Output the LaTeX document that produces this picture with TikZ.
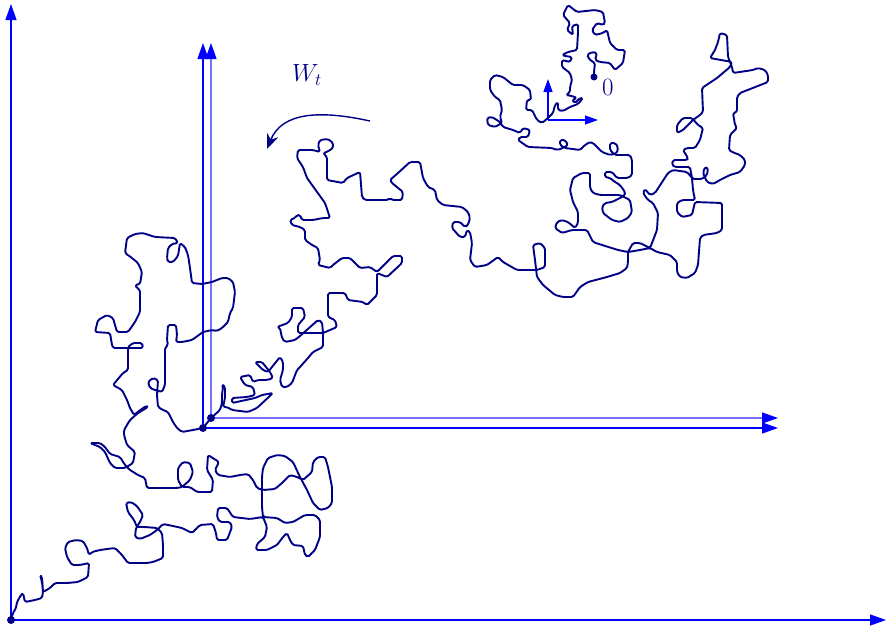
\documentclass[tikz,border=0pt]{standalone}
\usetikzlibrary{arrows.meta}
\definecolor{walkcol}{RGB}{0,0,135}
\begin{document}
\begin{tikzpicture}[x=1pt,y=-1pt,
  axis/.style={draw=blue, line width=1.2pt, -{Triangle[length=16pt,width=11pt,color=blue]}},
  axislight/.style={draw=blue!55, line width=1.2pt, -{Triangle[length=16pt,width=11pt,color=blue]}},
  smallaxis/.style={draw=blue, line width=1.3pt, -{Triangle[length=13pt,width=9pt,color=blue]}},
  walk/.style={draw=walkcol, line width=1.9pt, rounded corners=1.6pt, line join=round, line cap=round},
  dotnode/.style={circle, fill=walkcol, inner sep=0pt, minimum size=8pt},
  wlabel/.style={text=walkcol, inner sep=0pt}]
\useasboundingbox (0,0) rectangle (886,632);
% anchor coordinates
\coordinate (o) at (11,620);
\coordinate (a) at (203,428);
\coordinate (b) at (211,418);
\coordinate (z) at (594,77);
\coordinate (s) at (548,120);
\coordinate (oy) at (11,4);
\coordinate (ox) at (886,620);
\coordinate (ay) at (203,43);
\coordinate (ax) at (778,428);
\coordinate (by) at (211,43);
\coordinate (bx) at (778,418);
\coordinate (sy) at (548,79);
\coordinate (sx) at (598,120);
\coordinate (warrS) at (370,121);
\coordinate (warrE) at (267,149);
% axes
\draw[axis] (o) -- (oy);
\draw[axis] (o) -- (ox);
\draw[axis] (a) -- (ay);
\draw[axis] (a) -- (ax);
\draw[axislight] (b) -- (by);
\draw[axislight] (b) -- (bx);
\draw[smallaxis] (s) -- (sy);
\draw[smallaxis] (s) -- (sx);
% walk, first part
\draw[walk] (o) -- (13,613) -- (16,608) -- (17,602) -- (21,595) -- (23,593) -- (25,602) -- (30,601) -- (35,600) -- (42,598) -- (43,592) -- (42,577) -- (40,575) -- (42,582) -- (43,592) -- (50,588) -- (55,583) -- (67,583) -- (78,582) -- (88,577) -- (89,563) -- (80,565) -- (72,565) -- (67,557) -- (65,548) -- (68,542) -- (76,540) -- (83,541) -- (87,548) -- (89,555) -- (92,552) -- (100,550) -- (107,549) -- (115,548) -- (122,555) -- (128,563) -- (147,563) -- (153,562) -- (163,558) -- (163,545) -- (162,533) -- (157,528) -- (145,527) -- (137,527) -- (134,520) -- (128,512) -- (126,503) -- (131,502) -- (137,506) -- (143,515) -- (140,522) -- (136,528) -- (135,537) -- (140,539) -- (150,535) -- (157,530) -- (163,524) -- (173,526) -- (182,528) -- (192,533) -- (195,530) -- (200,525) -- (213,524) -- (216,533) -- (217,540) -- (227,540) -- (232,527) -- (230,522) -- (220,522) -- (217,517) -- (218,508) -- (227,508) -- (233,517) -- (250,519) -- (263,517) -- (267,527) -- (265,537) -- (257,544) -- (256,550) -- (267,550) -- (277,545) -- (283,537) -- (287,533) -- (290,540) -- (293,545) -- (303,546) -- (305,555) -- (308,557) -- (315,550) -- (320,537) -- (320,520) -- (315,515) -- (305,515) -- (293,522) -- (285,523) -- (277,518) -- (263,517) -- (262,507) -- (262,490) -- (262,477) -- (263,468) -- (268,458) -- (277,455) -- (285,456) -- (293,462) -- (300,477) -- (307,490) -- (313,503) -- (320,510) -- (328,508) -- (332,503) -- (332,487) -- (328,467) -- (325,457) -- (318,457) -- (313,462) -- (312,472) -- (303,480) -- (297,477) -- (290,475) -- (282,483) -- (275,489) -- (263,490) -- (257,488) -- (253,480) -- (248,474) -- (240,475) -- (230,477) -- (218,475) -- (215,470) -- (219,462) -- (208,455) -- (207,470) -- (213,480) -- (212,492) -- (197,492) -- (190,487) -- (182,487) -- (178,480) -- (178,468) -- (183,462) -- (190,463) -- (193,472) -- (190,480) -- (182,487) -- (177,488) -- (147,488) -- (145,478) -- (138,475) -- (130,470) -- (125,465) -- (120,457) -- (110,454) -- (105,447) -- (100,443) -- (90,443) -- (100,447) -- (105,452) -- (110,463) -- (115,468) -- (125,468) -- (133,463) -- (135,452) -- (127,445) -- (124,435) -- (124,430) -- (130,420) -- (138,413) -- (148,407) -- (146,406) -- (139,411) -- (134,415) -- (130,408) -- (127,400) -- (122,390) -- (113,385) -- (123,373) -- (128,370) -- (128,347) -- (133,343) -- (142,343) -- (143,348) -- (113,348) -- (112,345) -- (110,333) -- (95,332) -- (98,320) -- (107,315) -- (113,318) -- (117,332) -- (128,332) -- (135,322) -- (140,312) -- (140,290) -- (137,288) -- (135,285) -- (140,284) -- (142,272) -- (138,263) -- (132,258) -- (125,253) -- (127,238) -- (135,234) -- (143,233) -- (155,237) -- (175,238) -- (178,243) -- (172,244) -- (168,248) -- (167,258) -- (168,262) -- (173,262) -- (178,256) -- (180,243) -- (185,247) -- (188,255) -- (190,268) -- (192,283) -- (202,284) -- (212,282) -- (222,278) -- (228,278) -- (233,282) -- (235,292) -- (233,308) -- (230,313) -- (228,322) -- (222,328) -- (217,331) -- (212,330) -- (203,332) -- (192,340) -- (182,342) -- (176,342) -- (177,335) -- (176,325) -- (168,325) -- (167,340) -- (168,345) -- (165,348) -- (165,385) -- (162,392) -- (155,390) -- (150,388) -- (148,382) -- (153,378) -- (158,380) -- (157,395) -- (158,407) -- (163,410) -- (168,412) -- (173,422) -- (177,428) -- (182,432) -- (193,430) -- (a);
% walk, second part
\draw[walk] (a) -- (b) -- (220,410) -- (222,403) -- (222,395) -- (223,387) -- (222,384) -- (225,387) -- (225,398) -- (223,407) -- (227,407) -- (232,410) -- (248,412) -- (257,408) -- (273,393) -- (262,395) -- (255,398) -- (232,403) -- (232,398) -- (247,397) -- (255,395) -- (253,387) -- (245,385) -- (240,377) -- (250,375) -- (253,382) -- (258,380) -- (267,380) -- (273,378) -- (270,372) -- (262,362) -- (255,362) -- (263,370) -- (268,372) -- (280,357) -- (283,362) -- (283,370) -- (280,380) -- (282,387) -- (287,387) -- (292,383) -- (297,370) -- (300,367) -- (308,358) -- (313,352) -- (323,347) -- (323,333) -- (322,322) -- (318,320) -- (300,336) -- (295,340) -- (285,342) -- (282,338) -- (280,328) -- (277,327) -- (288,323) -- (292,317) -- (292,308) -- (303,308) -- (305,317) -- (298,325) -- (298,333) -- (323,333) -- (330,330) -- (337,327) -- (335,320) -- (328,317) -- (328,293) -- (345,293) -- (348,300) -- (363,302) -- (367,305) -- (377,295) -- (377,280) -- (377,273) -- (387,277) -- (402,263) -- (402,256) -- (393,256) -- (377,272) -- (370,267) -- (360,268) -- (350,258) -- (342,258) -- (333,265) -- (330,268) -- (318,265) -- (320,260) -- (318,248) -- (312,245) -- (305,240) -- (305,230) -- (300,227) -- (292,225) -- (290,220) -- (295,218) -- (297,215) -- (300,215) -- (302,220) -- (313,220) -- (323,218) -- (330,218) -- (325,203) -- (307,178) -- (303,167) -- (297,158) -- (298,150) -- (313,150) -- (320,152) -- (318,145) -- (320,140) -- (328,139) -- (333,143) -- (333,148) -- (327,152) -- (323,153) -- (327,157) -- (327,180) -- (343,183) -- (347,178) -- (360,172) -- (362,197) -- (365,200) -- (388,200) -- (390,198) -- (392,200) -- (402,200) -- (403,192) -- (392,183) -- (390,180) -- (398,173) -- (410,162) -- (420,162) -- (423,178) -- (428,187) -- (435,190) -- (437,200) -- (443,205) -- (462,207) -- (468,212) -- (470,218) -- (468,225) -- (465,227) -- (460,222) -- (453,222) -- (452,228) -- (460,237) -- (465,237) -- (467,230) -- (470,232) -- (472,243) -- (470,260) -- (475,267) -- (487,265) -- (498,257) -- (503,262) -- (517,270) -- (537,270) -- (545,267) -- (545,248) -- (540,243) -- (533,245) -- (535,260) -- (537,277) -- (543,285) -- (555,295) -- (563,297) -- (573,297) -- (580,287) -- (588,282) -- (607,277) -- (620,273) -- (627,268) -- (628,262) -- (628,252) -- (633,243) -- (640,243) -- (650,248) -- (657,230) -- (658,213) -- (653,203) -- (648,200) -- (643,193) -- (645,189) -- (650,195) -- (655,193) -- (668,173) -- (673,170) -- (687,172) -- (693,179) -- (702,179) -- (707,175) -- (708,168) -- (705,167) -- (703,173) -- (707,182) -- (713,184) -- (720,180) -- (730,175) -- (740,172) -- (745,165) -- (745,160) -- (740,155) -- (732,152) -- (729,150) -- (730,135) -- (737,128) -- (735,125) -- (733,113) -- (737,112) -- (737,97) -- (740,93) -- (768,82) -- (768,75) -- (765,70) -- (758,68) -- (753,70) -- (733,73) -- (732,67) -- (728,57) -- (727,35) -- (720,33) -- (718,42) -- (715,50) -- (710,58) -- (732,62) -- (730,67) -- (717,78) -- (702,88) -- (703,112) -- (700,115) -- (693,120) -- (683,130) -- (677,133) -- (677,125) -- (683,118) -- (692,118) -- (698,125) -- (703,128) -- (700,140) -- (695,148) -- (687,148) -- (683,150) -- (688,158) -- (687,160) -- (673,160) -- (672,165) -- (675,167) -- (690,167) -- (692,178) -- (693,190) -- (695,200) -- (682,200) -- (677,203) -- (677,212) -- (682,217) -- (692,215) -- (695,202) -- (722,203) -- (722,230) -- (717,233) -- (703,235) -- (700,238) -- (698,265) -- (695,273) -- (687,278) -- (680,277) -- (677,272) -- (677,262) -- (670,255) -- (657,252) -- (650,248) -- (640,250) -- (628,252) -- (618,250) -- (602,245) -- (593,242) -- (587,230) -- (572,230) -- (562,233) -- (555,228) -- (557,222) -- (562,220) -- (568,222) -- (575,228) -- (578,223) -- (578,212) -- (573,202) -- (570,190) -- (573,178) -- (582,173) -- (590,173) -- (590,188) -- (593,193) -- (600,195) -- (620,195) -- (630,200) -- (632,212) -- (628,218) -- (620,222) -- (612,220) -- (603,213) -- (602,207) -- (605,203) -- (612,202) -- (622,197) -- (625,195) -- (625,192) -- (620,185) -- (615,182) -- (610,178) -- (605,177) -- (605,172) -- (612,172) -- (617,178) -- (628,178) -- (632,175) -- (632,160) -- (630,155) -- (615,155) -- (610,150) -- (610,143) -- (615,143) -- (618,147) -- (617,153) -- (610,155) -- (602,152) -- (593,143) -- (590,142) -- (585,145) -- (580,150) -- (565,148) -- (560,145) -- (560,140) -- (565,140) -- (568,145) -- (563,148) -- (557,150) -- (552,148) -- (528,147) -- (518,140) -- (520,137) -- (528,137) -- (530,130) -- (523,128) -- (520,133) -- (513,130) -- (503,127) -- (500,122) -- (492,117) -- (487,118) -- (488,125) -- (495,127) -- (502,123) -- (500,117) -- (502,110) -- (500,100) -- (495,97) -- (490,90) -- (490,80) -- (495,75) -- (503,77) -- (513,85) -- (523,85) -- (530,90) -- (531,100) -- (527,100) -- (526,110) -- (532,110) -- (537,120) -- (542,123) -- (548,118) -- (553,113) -- (555,105) -- (558,102) -- (558,110) -- (563,111) -- (570,107) -- (578,104) -- (583,98) -- (580,98) -- (575,103) -- (572,100) -- (577,98) -- (572,96) -- (566,95) -- (570,92) -- (570,87) -- (572,80) -- (570,73) -- (562,67) -- (562,60) -- (570,62) -- (572,57) -- (565,56) -- (562,55) -- (568,52) -- (577,50) -- (578,33) -- (578,24) -- (572,26) -- (573,35) -- (567,30) -- (570,23) -- (563,15) -- (568,5) -- (577,12) -- (595,10) -- (603,12) -- (605,23) -- (603,25) -- (597,23) -- (592,30) -- (595,35) -- (603,33) -- (607,30) -- (610,43) -- (617,50) -- (625,50) -- (623,63) -- (615,70) -- (610,63) -- (600,62) -- (595,60) -- (597,53) -- (592,52) -- (587,55) -- (590,60) -- (595,63) -- (594,72) -- (z);
% dots
\node[dotnode] (O) at (o) {};
\node[dotnode] (A) at (a) {};
\node[dotnode] (B) at (b) {};
\node[dotnode, minimum size=7pt] (Z) at (z) {};
% labels
\node[wlabel, font=\fontsize{23}{26}\selectfont, anchor=west] (zl) at (602,87) {$0$};
\node[wlabel, font=\fontsize{27}{30}\selectfont] (wt) at (307,75) {$W_t$};
\draw[draw=walkcol, line width=1.4pt, -{Stealth[length=15pt,width=12pt]}] (warrS) .. controls (320,110) and (282,112) .. (warrE);
\end{tikzpicture}
\end{document}
